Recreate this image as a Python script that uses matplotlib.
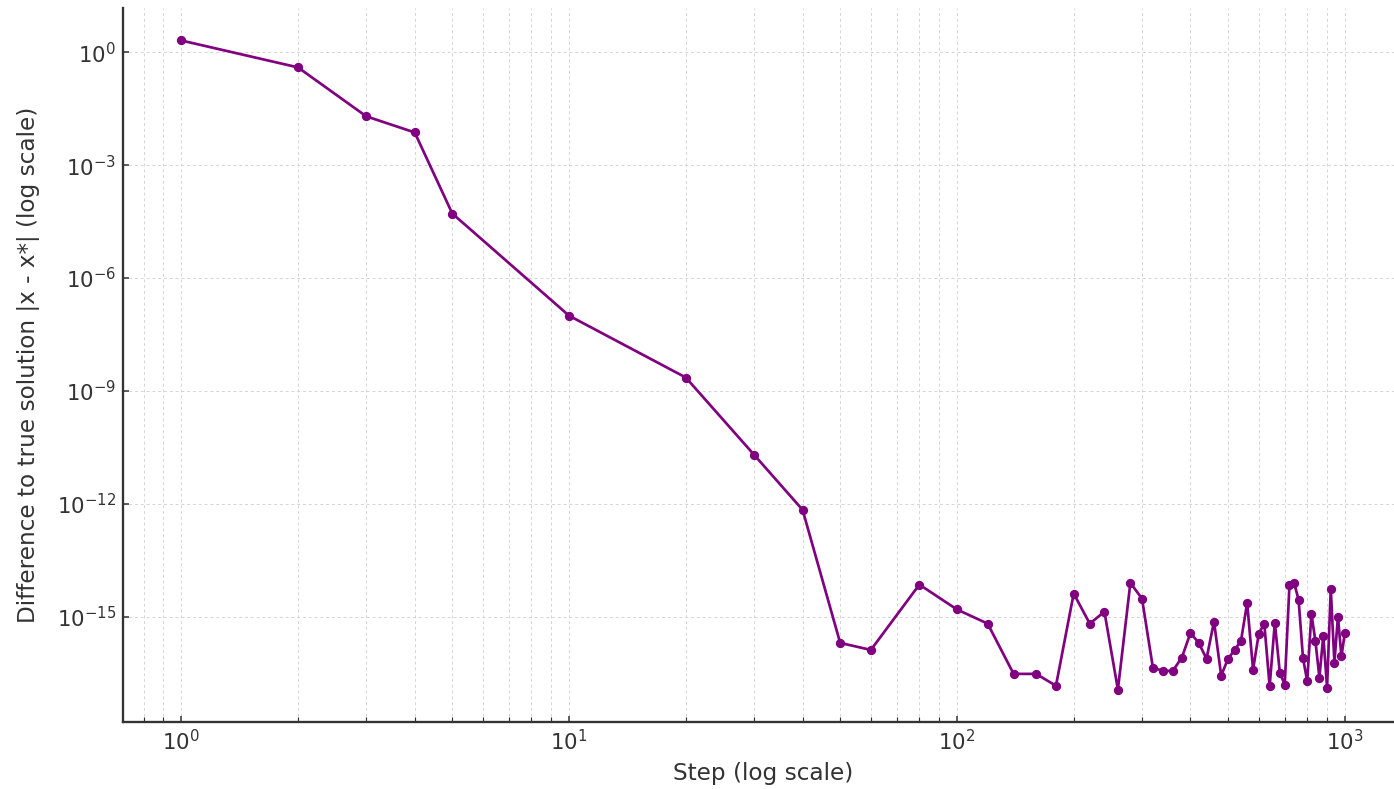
import matplotlib
matplotlib.use("Agg")
import matplotlib.pyplot as plt
from matplotlib.ticker import NullLocator

# Iteration steps at which the error was recorded
steps = [1, 2, 3, 4, 5, 10, 20, 30, 40, 50, 60] + list(range(80, 1001, 20))

# Absolute error |x - x*| at each recorded step
errors = [
    2.08, 0.40, 0.020, 7.45e-3, 5.2e-5, 1.0e-7, 2.27e-9, 2.0e-11, 6.9e-13,
    2.0e-16, 1.3e-16,
    # steps 80 .. 300
    7.1e-15, 1.55e-15, 6.5e-16, 3.0e-17, 3.0e-17, 1.45e-17, 4.1e-15, 6.5e-16,
    1.35e-15, 1.15e-17, 7.9e-15, 3.0e-15,
    # steps 320 .. 540
    4.4e-17, 3.6e-17, 3.6e-17, 8.1e-17, 3.7e-16, 2.0e-16, 7.6e-17, 7.4e-16,
    2.7e-17, 7.6e-17, 1.3e-16, 2.3e-16,
    # steps 560 .. 780
    2.3e-15, 3.9e-17, 3.5e-16, 6.5e-16, 1.4e-17, 6.9e-16, 3.2e-17, 1.55e-17,
    7.1e-15, 7.9e-15, 2.8e-15, 8.1e-17,
    # steps 800 .. 1000
    1.9e-17, 1.2e-15, 2.2e-16, 2.4e-17, 3.1e-16, 1.3e-17, 5.5e-15, 6.0e-17,
    1.0e-15, 8.7e-17, 3.7e-16,
]

text_color = "#333333"
plt.rcParams["font.family"] = ["DejaVu Sans"]

fig = plt.figure(figsize=(1394 / 139, 789 / 139), dpi=139)
ax = fig.add_axes([123 / 1394, 67 / 789, (1403 - 123) / 1394, (781 - 67) / 789])

ax.plot(steps, errors, color="purple", marker="o", markersize=3.8, linewidth=1.4)

ax.set_xscale("log")
ax.set_yscale("log")
ax.yaxis.set_minor_locator(NullLocator())

ax.set_xlabel("Step (log scale)", fontsize=12, color=text_color)
ax.set_ylabel("Difference to true solution |x - x*| (log scale)", fontsize=12,
              color=text_color, labelpad=9)

ax.grid(True, which="both", linestyle=(0, (3, 3)), linewidth=0.5,
        color="#d4d4d4")
ax.set_axisbelow(True)

for side in ("top", "right"):
    ax.spines[side].set_visible(False)
for side in ("left", "bottom"):
    ax.spines[side].set_color("#333333")
    ax.spines[side].set_linewidth(1.2)

ax.tick_params(which="both", direction="in", colors="#333333",
               labelsize=11, labelcolor=text_color)
ax.tick_params(which="major", length=3)
ax.tick_params(which="minor", length=2.5)

fig.savefig("out.png", dpi=139)
